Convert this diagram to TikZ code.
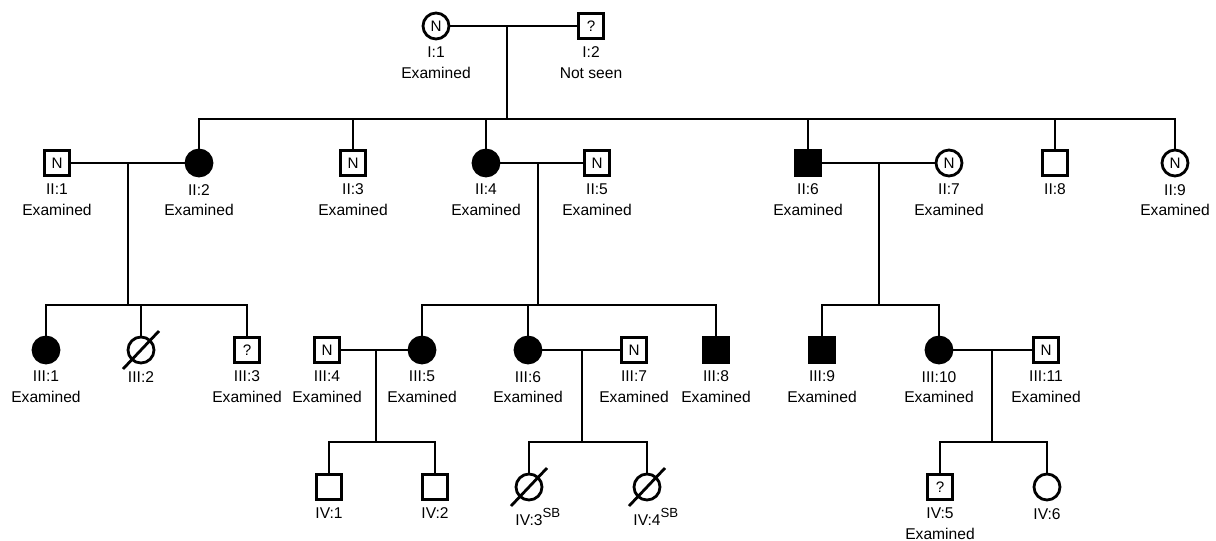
\documentclass[tikz,border=0pt]{standalone}
\usepackage{fontspec}
\setmainfont{Liberation Sans}
\usetikzlibrary{positioning,calc}
\tikzset{
  male/.style={draw,rectangle,line width=1.4pt,minimum size=12.5pt,inner sep=0pt,
               font=\fontsize{7.6}{8}\selectfont},
  female/.style={draw,circle,line width=1.4pt,minimum size=13pt,inner sep=0pt,
                 font=\fontsize{7.6}{8}\selectfont},
  aff/.style={fill=black},
  idlab/.style={font=\fontsize{7.8}{10.3}\selectfont,align=center,inner sep=0pt},
  every label/.style={idlab},
  line/.style={line width=1pt},
  slash/.style={line width=1.4pt},
}
\newcommand{\sbmark}{\rlap{\raisebox{0.5em}{\fontsize{6.6}{7}\selectfont SB}}}

\begin{document}
\begin{tikzpicture}[x=0.5pt,y=-0.5pt,label distance=3.2pt]
    \useasboundingbox (0,0) rectangle (1216,541);
    % Generation I
    \node[female, label={below:{I:1\\Examined}}] (I1) at (436,26) {N};
    \node[male, label={below:{I:2\\Not seen}}] (I2) at (591,26) {?};

    % Generation II
    \node[male, label={below:{II:1\\Examined}}] (II1) at (57,163) {N};
    \node[female, aff, label={below:{II:2\\Examined}}] (II2) at (199,163) {};
    \node[male, label={below:{II:3\\Examined}}] (II3) at (353,163) {N};
    \node[female, aff, label={below:{II:4\\Examined}}] (II4) at (486,163) {};
    \node[male, label={below:{II:5\\Examined}}] (II5) at (597,163) {N};
    \node[male, aff, label={below:{II:6\\Examined}}] (II6) at (808,163) {};
    \node[female, label={below:{II:7\\Examined}}] (II7) at (949,163) {N};
    \node[male, label={below:{II:8}}] (II8) at (1055,163) {};
    \node[female, label={below:{II:9\\Examined}}] (II9) at (1175,163) {N};

    % Generation III
    \node[female, aff, label={below:{III:1\\Examined}}] (III1) at (46,350) {};
    \node[female, label={below:{III:2}}] (III2) at (141,350) {};
    \node[male, label={below:{III:3\\Examined}}] (III3) at (247,350) {?};
    \node[male, label={below:{III:4\\Examined}}] (III4) at (327,350) {N};
    \node[female, aff, label={below:{III:5\\Examined}}] (III5) at (422,350) {};
    \node[female, aff, label={below:{III:6\\Examined}}] (III6) at (528,350) {};
    \node[male, label={below:{III:7\\Examined}}] (III7) at (634,350) {N};
    \node[male, aff, label={below:{III:8\\Examined}}] (III8) at (716,350) {};
    \node[male, aff, label={below:{III:9\\Examined}}] (III9) at (822,350) {};
    \node[female, aff, label={below:{III:10\\Examined}}] (III10) at (939,350) {};
    \node[male, label={below:{III:11\\Examined}}] (III11) at (1046,350) {N};

    % Generation IV
    \node[male, label={below:{IV:1}}] (IV1) at (329,487) {};
    \node[male, label={below:{IV:2}}] (IV2) at (435,487) {};
    \node[female, label={below:{IV:3\sbmark}}] (IV3) at (529,487) {};
    \node[female, label={below:{IV:4\sbmark}}] (IV4) at (647,487) {};
    \node[male, label={below:{IV:5\\Examined}}] (IV5) at (940,487) {?};
    \node[female, label={below:{IV:6}}] (IV6) at (1047,487) {};

    % Descent points
    \coordinate (d1) at (507,26);   \coordinate (s1) at (507,119);
    \coordinate (d2) at (128,163);  \coordinate (s2) at (128,305);
    \coordinate (d3) at (538,163);  \coordinate (s3) at (538,305);
    \coordinate (d4) at (879,163);  \coordinate (s4) at (879,305);
    \coordinate (d5) at (376,350);  \coordinate (s5) at (376,442);
    \coordinate (d6) at (582,350);  \coordinate (s6) at (582,442);
    \coordinate (d7) at (992,350);  \coordinate (s7) at (992,442);

    % Marriages
    \draw[line] (I1) -- (I2);
    \draw[line] (II1) -- (II2);
    \draw[line] (II4) -- (II5);
    \draw[line] (II6) -- (II7);
    \draw[line] (III4) -- (III5);
    \draw[line] (III6) -- (III7);
    \draw[line] (III10) -- (III11);

    % Sibships
    \draw[line] (d1) -- (s1);
    \draw[line] (II2.north) |- (s1) -| (II9.north);
    \foreach \k in {II3,II4,II6,II8}
      \draw[line] (\k.north) -- (\k.north |- s1);
    \draw[line] (d2) -- (s2);
    \draw[line] (III1.north) |- (s2) -| (III3.north);
    \draw[line] (III2.north) -- (III2.north |- s2);
    \draw[line] (d3) -- (s3);
    \draw[line] (III5.north) |- (s3) -| (III8.north);
    \draw[line] (III6.north) -- (III6.north |- s3);
    \draw[line] (d4) -- (s4);
    \draw[line] (III9.north) |- (s4) -| (III10.north);
    \draw[line] (d5) -- (s5);
    \draw[line] (IV1.north) |- (s5) -| (IV2.north);
    \draw[line] (d6) -- (s6);
    \draw[line] (IV3.north) |- (s6) -| (IV4.north);
    \draw[line] (d7) -- (s7);
    \draw[line] (IV5.north) |- (s7) -| (IV6.north);

    % Deceased
    \foreach \k in {III2,IV3,IV4}
      \draw[slash, shift={(\k)}] (-18,19) -- (18,-19);
\end{tikzpicture}
\end{document}
